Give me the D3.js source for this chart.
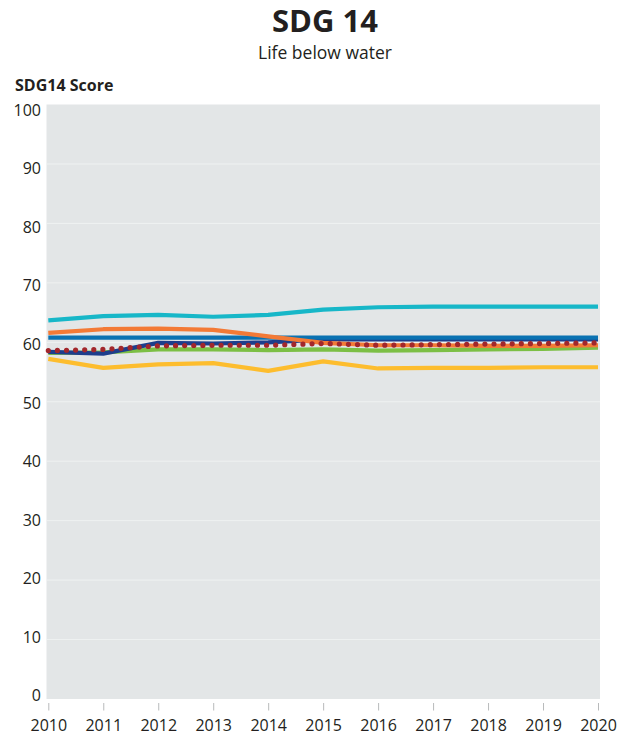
<!DOCTYPE html>
<html>
<head>
<meta charset="utf-8">
<script src="https://cdn.jsdelivr.net/npm/d3@7"></script>
<style>
  body { margin: 0; background: #fff; }
  text { font-family: "Open Sans", "Noto Sans", sans-serif; fill: #231f20; }
</style>
</head>
<body>
<div id="chart"></div>
<script>
// years on the x axis
const years = [2010, 2011, 2012, 2013, 2014, 2015, 2016, 2017, 2018, 2019, 2020];
const yTicks = [0, 10, 20, 30, 40, 50, 60, 70, 80, 90, 100];

// one array per line
const cyanSeries   = [63.7, 64.4, 64.6, 64.3, 64.6, 65.5, 65.9, 66.0, 66.0, 66.0, 66.0];
const orangeSeries = [61.6, 62.2, 62.3, 62.1, 61.0, 59.9, 59.5, 59.5, 59.4, 59.4, 59.5];
const blueSeries   = [60.8, 60.8, 60.8, 60.8, 60.8, 60.8, 60.8, 60.8, 60.8, 60.8, 60.8];
const navySeries   = [58.4, 58.1, 59.9, 59.8, 60.0, 60.5, 60.5, 60.5, 60.5, 60.5, 60.5];
const greenSeries  = [58.2, 58.3, 58.8, 58.8, 58.7, 58.8, 58.6, 58.7, 58.8, 58.9, 59.1];
const yellowSeries = [57.2, 55.7, 56.3, 56.5, 55.2, 56.8, 55.6, 55.7, 55.7, 55.8, 55.8];
const redSeries    = [58.6, 58.8, 59.4, 59.5, 59.5, 59.8, 59.5, 59.6, 59.7, 59.8, 59.9];

// drawing order: bottom first
const series = [
  { values: greenSeries,  color: '#7cbf45' },
  { values: yellowSeries, color: '#fdbd2e' },
  { values: navySeries,   color: '#1d3e8c' },
  { values: blueSeries,   color: '#0a72b2' },
  { values: orangeSeries, color: '#f37a36' },
  { values: cyanSeries,   color: '#17b7c8' },
  { values: redSeries,    color: '#a2272c', dotted: true }
];

const width = 634, height = 738;
const plot = { left: 46.5, right: 600, top: 104.5, bottom: 699 };

const svg = d3.select('#chart').append('svg')
  .attr('width', width)
  .attr('height', height);

const x = d3.scaleLinear().domain([2010, 2020]).range([48.3, 598]);
const y = d3.scaleLinear().domain([0, 100]).range([plot.bottom, plot.top]);
// the printed labels sit a little inside the gridlines at both ends
const yLabel = d3.scaleLinear().domain([0, 100]).range([plot.bottom - 3.3, plot.top + 5.6]);

// titles
svg.append('text')
  .attr('x', 325).attr('y', 32)
  .attr('text-anchor', 'middle')
  .style('font-size', '31px').style('font-weight', 'bold')
  .text('SDG 14');

svg.append('text')
  .attr('x', 325).attr('y', 59)
  .attr('text-anchor', 'middle')
  .style('font-size', '17.5px')
  .text('Life below water');

svg.append('text')
  .attr('x', 15).attr('y', 91)
  .style('font-size', '16px').style('font-weight', 'bold')
  .text('SDG14 Score');

// background and gridlines
svg.append('rect')
  .attr('x', plot.left).attr('y', plot.top)
  .attr('width', plot.right - plot.left)
  .attr('height', plot.bottom - plot.top)
  .attr('fill', '#e3e6e7');

svg.append('g')
  .selectAll('line')
  .data(yTicks.filter(d => d > 0 && d < 100))
  .join('line')
  .attr('x1', plot.left).attr('x2', plot.right)
  .attr('y1', d => y(d)).attr('y2', d => y(d))
  .attr('stroke', '#f3f5f5')
  .attr('stroke-width', 0.8);

// y axis labels
const yAxis = svg.append('g')
  .attr('transform', 'translate(41,0)')
  .call(d3.axisLeft(yLabel).tickValues(yTicks).tickSize(0).tickPadding(0));
yAxis.select('.domain').remove();
yAxis.selectAll('text')
  .style('font-size', '16px')
  .attr('fill', '#231f20');

// x axis
const xAxis = svg.append('g')
  .attr('transform', 'translate(0,' + (plot.bottom + 4) + ')')
  .call(d3.axisBottom(x).tickValues(years).tickFormat(d3.format('d')).tickSize(7.5).tickPadding(9.5));
xAxis.select('.domain').remove();
xAxis.selectAll('.tick line').attr('stroke', '#b8babb');
xAxis.selectAll('text')
  .style('font-size', '16px')
  .attr('fill', '#231f20');

// lines
const line = d3.line()
  .x((d, i) => x(years[i]))
  .y(d => y(d));

svg.append('g')
  .selectAll('path')
  .data(series)
  .join('path')
  .attr('d', d => line(d.values))
  .attr('fill', 'none')
  .attr('stroke', d => d.color)
  .attr('stroke-width', d => d.dotted ? 5.2 : 4.2)
  .attr('stroke-linecap', d => d.dotted ? 'round' : 'butt')
  .attr('stroke-linejoin', 'round')
  .attr('stroke-dasharray', d => d.dotted ? '0,9.1' : null);
</script>
</body>
</html>
